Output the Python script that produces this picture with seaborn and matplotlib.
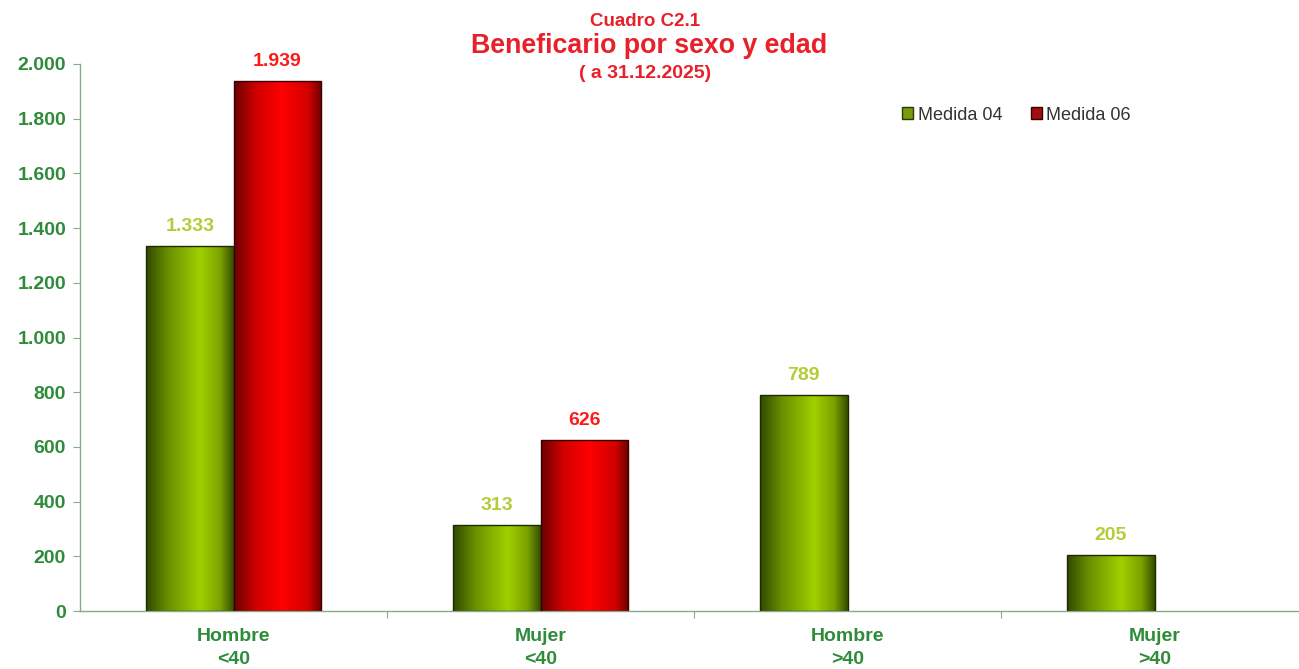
import numpy as np
import pandas as pd
import matplotlib
matplotlib.use("Agg")
import matplotlib.pyplot as plt
from matplotlib.colors import LinearSegmentedColormap
from matplotlib.ticker import FuncFormatter, FixedLocator
from matplotlib.patches import Patch
import seaborn as sns

# Data
categories = ["Hombre\n<40", "Mujer\n<40", "Hombre\n>40", "Mujer\n>40"]
medida_04 = [1333, 313, 789, 205]
medida_06 = [1939, 626, None, None]
series_names = ["Medida 04", "Medida 06"]

rows = []
for cat, v in zip(categories, medida_04):
    rows.append({"grupo": cat, "serie": "Medida 04", "valor": v})
for cat, v in zip(categories, medida_06):
    if v is not None:
        rows.append({"grupo": cat, "serie": "Medida 06", "valor": v})
df = pd.DataFrame(rows)

sns.set_theme(style="white")
plt.rcParams["font.family"] = ["Liberation Sans", "DejaVu Sans"]

green_label = "#b5cc38"
red_label = "#ff1a1a"
axis_green = "#2e8b3a"
title_red = "#e8202a"

fig = plt.figure(figsize=(12.99, 6.69), dpi=100)
ax = fig.add_axes([80 / 1299, 1 - 611 / 669, 1228 / 1299, (611 - 64) / 669])

ax = sns.barplot(data=df, x="grupo", y="valor", hue="serie", order=categories,
                 hue_order=series_names, palette=["#99cc00", "#ff0000"],
                 width=0.57, gap=0, ax=ax, legend=False, errorbar=None)

# cylinder-like shading inside each bar
cmaps = {
    "Medida 04": LinearSegmentedColormap.from_list(
        "g", [(0, "#304800"), (0.25, "#6a9000"), (0.62, "#a0d000"), (0.85, "#7aa000"), (1, "#344c00")]),
    "Medida 06": LinearSegmentedColormap.from_list(
        "r", [(0, "#6a0000"), (0.25, "#d00000"), (0.55, "#ff0000"), (0.85, "#d00000"), (1, "#6a0000")]),
}
grad = np.linspace(0, 1, 256).reshape(1, -1)
for cont, name in zip(ax.containers, series_names):
    for bar in cont:
        h = bar.get_height()
        if not np.isfinite(h) or h <= 0:
            continue
        x0, w = bar.get_x(), bar.get_width()
        im = ax.imshow(grad, cmap=cmaps[name], aspect="auto",
                       extent=[x0, x0 + w, 0, h], zorder=2, interpolation="bicubic")
        im.set_clip_path(bar)
        bar.set_facecolor("none")
        bar.set_edgecolor("#1e2a00" if name == "Medida 04" else "#3a0000")
        bar.set_linewidth(1.0)
        bar.set_zorder(3)

# value labels
for cont, name, vals in zip(ax.containers, series_names, [medida_04, medida_06]):
    col = green_label if name == "Medida 04" else red_label
    for bar, v in zip(cont, vals):
        if v is None:
            continue
        ax.annotate(f"{v:,}".replace(",", "."),
                    (bar.get_x() + bar.get_width() / 2, bar.get_height()),
                    xytext=(0, 14), textcoords="offset points", ha="center", va="center",
                    fontsize=14, fontweight="bold", color=col)

ax.set_xlim(-0.5, len(categories) - 0.5)
ax.set_ylim(0, 2000)
ax.set_yticks(np.arange(0, 2001, 200))
ax.yaxis.set_major_formatter(FuncFormatter(lambda v, p: f"{int(v):,}".replace(",", ".")))
ax.tick_params(axis="y", left=True, length=5, width=0.8, color="#8aa88a",
               labelsize=14, labelcolor=axis_green, pad=5)
for lab in ax.get_yticklabels():
    lab.set_fontweight("bold")

ax.set_xticks(range(len(categories)))
ax.set_xticklabels(categories)
ax.xaxis.set_minor_locator(FixedLocator([0.5, 1.5, 2.5]))
ax.tick_params(axis="x", which="major", length=0, labelsize=14, labelcolor=axis_green, pad=12)
ax.tick_params(axis="x", which="minor", bottom=True, length=5, width=0.8, color="#8aa88a")
for lab in ax.get_xticklabels():
    lab.set_fontweight("bold")
    lab.set_linespacing(1.5)

ax.set_xlabel("")
ax.set_ylabel("")
sns.despine(ax=ax, top=True, right=True)
for side in ["left", "bottom"]:
    ax.spines[side].set_color("#8aa88a")
    ax.spines[side].set_linewidth(1.0)

# titles
fig.text(645 / 1299, 1 - 21 / 669, "Cuadro C2.1", ha="center", va="center",
         fontsize=13.5, fontweight="bold", color=title_red)
fig.text(649 / 1299, 1 - 46 / 669, "Beneficario por sexo y edad", ha="center", va="center",
         fontsize=19.3, fontweight="bold", color=title_red)
fig.text(645 / 1299, 1 - 74 / 669, "( a 31.12.2025)", ha="center", va="center",
         fontsize=14, fontweight="bold", color=title_red)

# legend
handles = [Patch(facecolor="#7a9a10", edgecolor="#2a3a00", linewidth=1.0),
           Patch(facecolor="#a01010", edgecolor="#3a0000", linewidth=1.0)]
fig.legend(handles, series_names, loc="center left",
           bbox_to_anchor=(886 / 1299, 1 - 115 / 669), ncol=2, frameon=False,
           fontsize=13, handlelength=0.6, handleheight=0.6, handletextpad=0.25,
           columnspacing=1.6, labelcolor="#333333")

fig.savefig("out.png", dpi=100)
